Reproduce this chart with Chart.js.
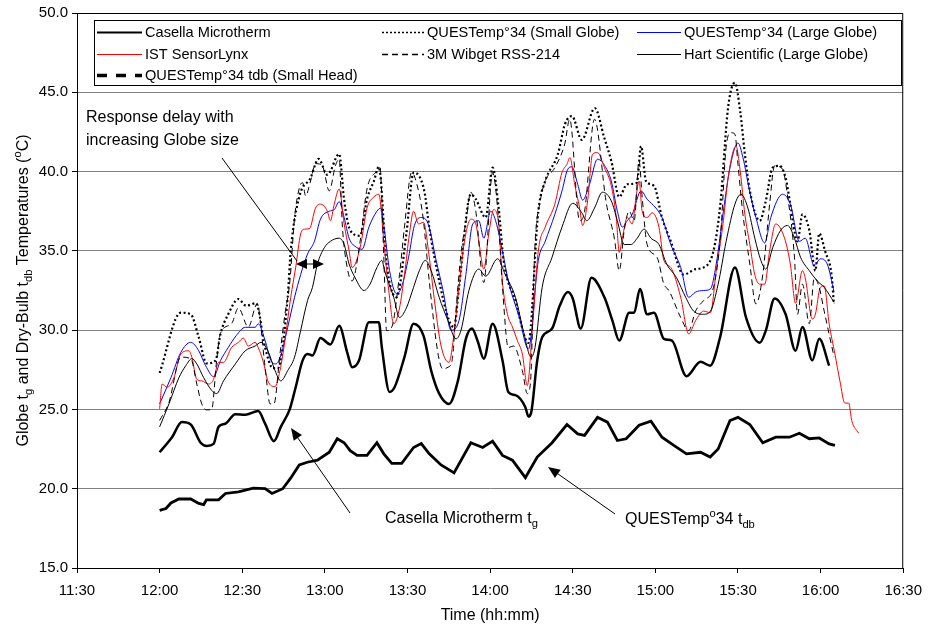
<!DOCTYPE html>
<html lang="en">
<head>
<meta charset="UTF-8" />
<title>Globe and dry-bulb temperatures</title>
<script src="https://cdn.jsdelivr.net/npm/chart.js@4.4.1/dist/chart.umd.min.js"></script>
<style>
  body { margin: 0; background: #fff; }
</style>
</head>
<body>
<canvas id="chart" width="931" height="626"></canvas>
<script>
// time axis labels
const timeTicks = ["11:30", "12:00", "12:30", "13:00", "13:30", "14:00", "14:30", "15:00", "15:30", "16:00", "16:30"];
const startTime = "12:00";

// series: minutes after 12:00 and temperatures (deg C)
const casellaT = [0,4.5,8.1,11.3,14.9,17.1,19.6,21.4,23.9,27.5,31.1,35.8,38.3,41.5,44,47.3,49.4,51.9,53.7,55.5,58.4,62,65.2,68.1,69.9,72.4,76,79.6,80.7,83.5,85.3,88.9,92.2,95.8,98.6,101.5,105.1,108.3,111.2,113.4,115.5,117.7,120.9,124.5,126.6,129.2,132.8,133.9,134.9,137.1,138.9,142.5,145.3,148.2,150,152.9,156.8,161.5,164.4,166.9,170.5,172.3,174.4,177,179.5,183.1,186,191.3,196.4,199.9,203.5,208.9,212.9,217.9,220.1,223.3,227.3,230.9,233.4,237,239.5,243.1];
const casellaV = [22.3,23.25,24.2,24.05,22.9,22.7,22.83,23.9,24.1,24.7,24.66,24.9,24.1,23.0,23.9,25.04,26.4,28.08,28.5,28.4,29.5,29.1,30.28,28.6,27.66,28.08,30.5,30.5,28.9,26.1,26.4,28.3,30.4,29.65,27.45,26.0,25.35,26.8,29.45,30.1,29.3,28.2,30.4,28.08,26.1,25.9,25.14,24.55,24.8,28.08,29.55,30.1,31.55,32.4,32.0,30.1,33.3,32.07,30.6,29.34,31.1,31.1,32.6,31.0,31.1,29.45,29.34,27.1,28.0,27.76,29.55,33.95,30.8,29.2,29.97,32.0,31.0,28.7,30.2,28.1,29.45,27.76];

const smallT = [0,7.7,11.3,14.2,17.1,20.3,22.1,24.9,28.6,31.4,35,38.3,41.1,42.9,46.5,47.6,50.8,54.8,57.7,60.9,65.2,67,69.2,72.8,75.3,77.8,79.6,82.4,86,89.6,92.2,96.1,97.9,101.5,105.1,106.9,108.7,113,114.8,118.4,120.9,123.1,124.9,129.2,133.9,137.5,140,144.6,147.2,149.7,153.3,158,161.5,164,166.9,169.7,173.3,174.8,176.6,179.5,182.4,185.6,190.3,194.6,197.5,201.1,203.6,206.4,208.9,210.8,212.5,214.3,217.9,220.1,222.6,225.1,227.3,229,231.6,233.4,235.9,238.1,239.5,241.6,244.1,244.8];
const smallV = [27.3,31.1,31.0,29.55,27.9,28.08,29.76,31.0,31.96,31.54,31.7,28.9,27.6,27.6,32.07,35.0,38.47,39.6,40.8,39.8,41.1,38.2,36.3,35.95,38.27,39.4,40.3,34.2,32.07,36.1,39.94,38.78,36.5,33.1,30.6,30.18,32.7,38.57,38.26,37.1,40.25,37.7,34.4,31.86,29.2,37.5,39.4,41.1,43.0,43.5,42.0,44.0,42.1,40.67,38.4,39.2,39.3,41.6,39.4,39.1,37.1,35.6,33.5,33.85,33.95,35.0,37.95,44.03,45.6,43.8,41.1,38.78,36.9,38.15,40.25,40.36,39.6,37.95,35.6,37.3,36.3,33.75,36.1,35.0,33.3,31.65];

const largeT = [0,4.1,7.7,11.3,14.2,16.7,19.6,22.1,24.9,27.8,31.1,34.7,35.8,38.3,40.4,42.2,44,46.5,49,51.2,53.7,56.2,58.4,61.6,63.4,65.2,67,68.8,71.7,73.5,76,78.9,80.3,81.4,83.5,86,87.8,90.4,92.5,95,97.5,100.4,102.9,105.8,108.7,111.2,113.7,115.9,117.7,120.2,122,124.9,126.6,130.6,133.9,137.5,140,143.5,146.1,148.2,149.7,151.8,153.6,156.1,159,161.5,164,166.2,168,169.8,171.6,174.8,177,180.2,182.4,185.6,189.2,192.1,194.6,197.5,200,202.1,204.7,207.1,210,211.8,214.3,216.5,219.7,221.9,226.2,229,232.3,234.4,237.7,239.9,242.4,244.9];
const largeV = [25.35,27.0,28.6,29.23,28.7,27.76,27.07,28.08,28.9,29.65,30.18,30.18,30.4,29.34,28.08,27.87,28.4,30.18,32.07,33.5,34.8,35.6,37.0,37.5,37.6,38.1,37.1,35.8,35.2,35.1,36.5,37.5,37.7,36.6,33.75,32.3,32.7,34.6,36.6,37.1,36.7,34.4,32.5,30.0,30.6,33.5,36.7,36.9,35.8,37.5,36.9,34.6,33.1,30.8,28.8,34.4,35.6,37.3,38.78,40.15,40.3,39.2,38.2,39.2,40.78,40.4,39.4,37.5,36.5,36.9,37.3,38.78,38.26,37.7,37.1,35.4,33.95,32.07,32.4,32.5,32.6,34.17,37.5,40.25,41.8,40.88,38.7,37.1,35.5,37.1,38.57,37.95,35.6,35.8,34.06,34.5,34.17,32.4];

const istT = [0,0.9,2.7,5.2,7.7,10.6,11.7,13.5,15.3,17.8,19.6,21.4,23.2,26.1,28.6,30.4,32.2,34.7,35.8,37.5,39.3,41.9,43.7,45.5,47.6,49.4,51.2,52.6,54.4,56.6,58.4,60.9,62,63.4,65.2,67,68.8,69.9,72.8,75.3,77.8,79.6,81.4,83.2,85,87.1,88.9,90.7,92.2,94,95.8,97.9,99.7,102.2,105.1,106.5,108.7,110.5,113,114.8,115.9,117.7,119.5,121.3,123.1,124.5,126.3,128.1,129.9,131.7,133.5,135.3,137.5,140,143.5,146.1,147.9,149,150.7,152.5,153.6,155.4,157.2,159,161.5,164,165.8,166.9,168,169.8,171.6,173,174.1,175.2,177,178.8,181.3,183.1,185.6,189.2,192.1,194.6,197.5,200,202.1,204.7,206.4,209.3,210.8,212.5,214.3,216.1,217.9,219.7,221.5,223.7,226.9,229,230.9,233.4,234.4,237,238.1,239.9,241.3,243.1,245.2,247,248.8,250.2,251.3,253.8];
const istV = [25.04,26.6,26.4,27.0,28.5,28.7,28.3,26.9,26.8,26.6,26.9,27.97,27.97,28.9,29.23,29.5,29.0,29.23,28.9,28.08,26.8,26.44,27.45,29.34,32.07,33.95,36.06,36.37,36.4,37.7,37.95,37.5,36.9,37.95,38.9,36.7,35.0,33.95,35.2,37.7,38.4,38.57,35.6,32.5,30.4,31.4,33.5,36.06,37.5,36.7,36.8,34.6,32.0,29.0,27.97,29.23,32.7,35.4,37.0,36.7,35.6,33.85,36.06,37.6,36.7,33.0,31.0,30.2,29.34,28.5,26.5,29.97,35.0,36.5,37.95,39.94,40.46,40.88,39.2,37.7,36.6,38.15,41.1,41.2,40.25,39.1,37.1,34.9,35.8,37.1,36.7,38.4,39.4,37.5,37.1,37.4,36.5,34.4,33.95,32.07,29.76,30.6,31.2,31.1,33.75,36.9,39.6,41.6,40.04,37.3,35.4,33.5,32.9,32.9,35.0,36.7,35.8,34.17,31.7,33.75,33.3,30.7,31.0,32.7,32.8,30.4,28.5,26.8,25.4,25.4,24.3,23.5];

const wibgetT = [0,3.4,7.7,11.3,13.5,15.3,17.1,18.9,20.7,22.1,26.1,28.6,32.2,35.4,38.3,40.1,41.5,43.7,45.5,47.3,49,50.8,51.9,53,54.8,56.6,59.1,61.6,63.8,65.2,66.3,68.1,69.9,72.8,75.3,78.9,80,81.4,82.4,84.3,87.1,88.9,91.5,94,95.8,97.9,101.2,102.9,104.7,106.2,107.6,109.4,111.2,113,114.8,117.7,120.9,122.7,124.5,126.6,128.5,131.7,133.5,134.6,136.3,138.2,140,143.5,147.1,148.9,152.5,154.3,157.9,162.2,165.1,166.9,168.7,170.5,172.3,174.1,175.2,177,180.6,183.1,184.9,189.2,192.1,194.6,197.5,201.1,203.6,205.8,207.5,208.9,210,211.8,214.3,216.5,219,221.5,223.3,226.2,227.9,230.5,231.6,233.4,235.9,237.7,239.5,241.3,244.9];
const wibgetV = [24.3,25.45,28.3,28.2,26.6,25.35,24.97,25.0,28.08,29.8,30.4,31.4,30.2,31.65,27.66,25.35,25.35,28.5,31.0,33.1,37.1,39.0,39.3,38.47,39.4,40.5,40.36,38.78,40.36,40.78,36.7,33.95,33.1,35.6,38.9,40.04,40.25,34.6,29.97,30.2,33.5,36.5,39.94,38.78,36.9,33.1,28.4,27.55,27.66,28.08,31.2,34.8,36.8,38.7,37.5,33.0,39.94,37.7,32.7,28.9,29.0,27.45,26.0,26.6,35.4,38.15,39.4,40.25,41.75,43.3,36.9,37.5,43.3,38.0,35.8,33.75,36.3,37.5,36.9,40.67,38.4,35.4,34.6,32.9,32.5,30.8,29.97,31.2,31.86,32.7,35.8,41.7,42.45,42.35,40.46,37.3,34.17,31.65,33.5,37.95,40.36,40.15,38.57,34.6,31.0,32.9,30.4,33.3,32.7,31.2,28.3];

const hartT = [0,3.4,7,9.5,11.7,13.5,16,18.9,20.7,23.2,27.5,31.1,34.7,36.8,39.3,41.9,44,46.5,49,51.2,53.7,55.5,57.3,59.8,62,65.2,67,68.8,71,74.2,76.4,78.9,80.7,81.7,85,87.1,89.6,92.2,94.3,96.5,98.6,101.5,104.7,107.6,109.4,112.3,115.9,118.4,122.7,125.5,129.2,132,134.9,136.3,138.9,142.5,146.1,150,153.3,155.1,157.9,160.8,164,166.2,168.7,171.2,173.4,175.9,178.4,181.3,184.1,187.7,191,193.9,197.5,200,202.8,205.7,208.9,211.1,213.6,216.1,218.3,220.1,222.6,225.5,228,230.5,232.7,235.9,238.8,241.3,244.9];
const hartV = [23.9,25.35,27.0,27.76,28.2,27.87,27.0,26.2,26.0,26.8,27.87,28.7,29.0,29.23,28.7,27.45,26.8,27.45,28.3,29.97,31.86,32.7,34.17,35.2,35.6,35.8,35.4,34.17,33.3,32.5,32.9,33.95,34.4,33.75,32.07,30.8,31.4,32.7,33.75,34.4,33.75,32.07,30.6,29.45,29.97,32.5,33.85,33.4,34.5,33.5,32.07,30.0,28.3,28.9,32.7,34.6,36.5,38.0,37.4,36.9,37.7,38.7,38.15,36.9,35.4,35.4,35.8,36.37,35.8,35.4,34.17,33.3,32.07,31.2,31.0,31.2,32.9,35.6,37.95,38.57,37.7,35.8,34.4,33.85,35.2,36.3,36.6,35.8,34.6,33.75,33.1,32.7,31.75];

const tdbT = [0,2.3,4.1,7,11.3,14.2,16,17,21.4,23.9,28.6,34,38.3,40.8,44.7,47.5,50.7,53.6,57.3,61.6,64.5,67,69.2,71.7,75.3,78.9,81.4,84.3,87.9,92.2,95,97.9,102.2,106.9,113,117.3,120.9,124.5,128.1,132.8,137.1,142.5,147.9,151.8,154.3,159,162.6,166.2,169.4,174.1,178.4,182.4,186.7,191.3,196.4,199.9,202.8,207.1,210,214.3,219,223.7,228.7,232.3,235.9,239.5,243.1,245.2];
const tdbV = [18.63,18.75,19.1,19.35,19.35,19.07,19.0,19.3,19.3,19.7,19.8,20.04,20.0,19.7,20.0,20.65,21.5,21.67,21.8,22.3,23.15,22.9,22.4,22.1,22.1,22.9,22.2,21.6,21.6,22.6,22.85,22.2,21.5,21.0,22.9,22.6,23.0,22.1,21.8,20.7,22.0,22.9,24.05,23.46,23.36,24.5,24.2,23.04,23.15,24.0,24.26,23.25,22.73,22.2,22.3,22.0,22.5,24.3,24.5,24.05,22.9,23.25,23.25,23.5,23.15,23.2,22.83,22.73];

const FONT = "'Liberation Sans', Arial, sans-serif";

function toMin(s) {
  const p = s.split(":");
  return +p[0] * 60 + +p[1];
}
function fmtTime(v) {
  const h = Math.floor(v / 60), m = Math.round(v % 60);
  return h + ":" + (m < 10 ? "0" : "") + m;
}
function pts(ts, vs) {
  const t0 = toMin(startTime);
  const n = Math.min(ts.length, vs.length);
  const out = [];
  for (let i = 0; i < n; i++) out.push({ x: t0 + ts[i], y: vs[i] });
  return out;
}

const datasets = [
  { label: "Casella Microtherm", data: pts(casellaT, casellaV), borderColor: "#000", borderWidth: 2.5, legendWidth: 2 },
  { label: "QUESTemp°34 (Small Globe)", data: pts(smallT, smallV), borderColor: "#000", borderWidth: 2.2, borderDash: [2, 2.5], legendWidth: 1.5, legendDash: [2, 2] },
  { label: "QUESTemp°34 (Large Globe)", data: pts(largeT, largeV), borderColor: "#0000ff", borderWidth: 1 },
  { label: "IST SensorLynx", data: pts(istT, istV), borderColor: "#ff0000", borderWidth: 1 },
  { label: "3M Wibget RSS-214", data: pts(wibgetT, wibgetV), borderColor: "#000", borderWidth: 1, borderDash: [6, 4], legendWidth: 1.5 },
  { label: "Hart Scientific (Large Globe)", data: pts(hartT, hartV), borderColor: "#000", borderWidth: 1 },
  { label: "QUESTemp°34 tdb (Small Head)", data: pts(tdbT, tdbV), borderColor: "#000", borderWidth: 2.8, cubicInterpolationMode: "default", tension: 0, legendWidth: 3.5, legendDash: [10, 9] }
];
datasets.forEach((d, i) => {
  d.order = -i;
  d.fill = false;
  if (!d.cubicInterpolationMode) d.cubicInterpolationMode = "monotone";
});

// rich text with sub/superscripts
function richText(ctx, parts, x, y, size, draw) {
  let cx = x;
  parts.forEach(([txt, kind]) => {
    const s = kind ? size * 0.7 : size;
    ctx.font = s + "px " + FONT;
    const dy = kind === "sub" ? size * 0.28 : kind === "sup" ? -size * 0.42 : 0;
    if (draw) ctx.fillText(txt, cx, y + dy);
    cx += ctx.measureText(txt).width;
  });
  return cx - x;
}

function arrowHead(ctx, x1, y1, x2, y2, len, half) {
  const a = Math.atan2(y2 - y1, x2 - x1);
  ctx.beginPath();
  ctx.moveTo(x2, y2);
  ctx.lineTo(x2 - len * Math.cos(a) + half * Math.sin(a), y2 - len * Math.sin(a) - half * Math.cos(a));
  ctx.lineTo(x2 - len * Math.cos(a) - half * Math.sin(a), y2 - len * Math.sin(a) + half * Math.cos(a));
  ctx.closePath();
  ctx.fill();
}

function line(ctx, x1, y1, x2, y2) {
  ctx.beginPath();
  ctx.moveTo(x1, y1);
  ctx.lineTo(x2, y2);
  ctx.stroke();
}

const decor = {
  id: "decor",
  beforeDatasetsDraw(chart) {
    const ctx = chart.ctx;
    ctx.save();
    ctx.fillStyle = "#fff";
    ctx.fillRect(94.5, 20.5, 807, 65);
    ctx.strokeStyle = "#000";
    ctx.lineWidth = 1;
    ctx.strokeRect(94.5, 20.5, 807, 65);
    const cols = [97, 382, 637];
    const lens = [45, 42, 44];
    const rows = [32, 54, 75];
    ctx.font = "14.6px " + FONT;
    ctx.textBaseline = "middle";
    chart.data.datasets.forEach((d, i) => {
      const c = i % 3, r = Math.floor(i / 3);
      const x = cols[c], y = rows[r];
      ctx.strokeStyle = d.borderColor;
      ctx.lineWidth = d.legendWidth || d.borderWidth;
      ctx.setLineDash(d.legendDash || d.borderDash || []);
      line(ctx, x, y + 0.5, x + lens[c], y + 0.5);
      ctx.setLineDash([]);
      ctx.fillStyle = "#000";
      ctx.fillText(d.label, x + lens[c] + 3, y + 1);
    });
    ctx.restore();
  },
  afterDraw(chart) {
    const ctx = chart.ctx;
    const a = chart.chartArea;
    ctx.save();
    ctx.strokeStyle = "#000";
    ctx.fillStyle = "#000";
    ctx.lineWidth = 1;
    // plot frame top and right
    ctx.beginPath();
    ctx.moveTo(a.left, a.top + 0.5);
    ctx.lineTo(a.right - 0.5, a.top + 0.5);
    ctx.lineTo(a.right - 0.5, a.bottom);
    ctx.stroke();

    // annotations
    ctx.textBaseline = "alphabetic";
    ctx.font = "16px " + FONT;
    ctx.fillText("Response delay with", 86, 122);
    ctx.fillText("increasing Globe size", 86, 145);
    line(ctx, 222, 158, 297, 261);
    line(ctx, 300, 264, 320, 264);
    arrowHead(ctx, 320, 264, 296, 264, 11, 5);
    arrowHead(ctx, 300, 264, 324, 264, 11, 5);

    line(ctx, 350, 513, 293, 431);
    arrowHead(ctx, 350, 513, 291, 428, 12, 5);
    richText(ctx, [["Casella Microtherm t"], ["g", "sub"]], 385, 523, 16, true);

    line(ctx, 615, 514, 551, 469);
    arrowHead(ctx, 615, 514, 548, 467, 12, 5);
    richText(ctx, [["QUESTemp"], ["o", "sup"], ["34 t"], ["db", "sub"]], 625, 524, 16, true);

    // axis titles
    ctx.textAlign = "left";
    const xt = "Time (hh:mm)";
    ctx.font = "16px " + FONT;
    const xw = ctx.measureText(xt).width;
    ctx.fillText(xt, (a.left + a.right) / 2 - xw / 2, 620);

    const yParts = [["Globe t"], ["g", "sub"], [" and Dry-Bulb t"], ["db", "sub"], [" Temperatures ("], ["o", "sup"], ["C)"]];
    const yw = richText(ctx, yParts, 0, 0, 16, false);
    ctx.translate(28, (a.top + a.bottom) / 2);
    ctx.rotate(-Math.PI / 2);
    richText(ctx, yParts, -yw / 2, 0, 16, true);
    ctx.restore();
  }
};

Chart.defaults.font.family = FONT;
Chart.defaults.font.size = 15;
Chart.defaults.color = "#000";

new Chart(document.getElementById("chart"), {
  type: "line",
  data: { datasets },
  options: {
    responsive: false,
    animation: false,
    devicePixelRatio: 1,
    layout: { padding: { top: 12, right: 19, left: 0, bottom: 0 } },
    elements: { point: { radius: 0 } },
    plugins: { legend: { display: false }, tooltip: { enabled: false } },
    scales: {
      x: {
        type: "linear",
        min: toMin(timeTicks[0]),
        max: toMin(timeTicks[timeTicks.length - 1]),
        afterBuildTicks: (axis) => { axis.ticks = timeTicks.map((s) => ({ value: toMin(s) })); },
        afterFit: (scale) => { scale.height = 58; },
        ticks: { callback: (v) => fmtTime(v), padding: 9, maxRotation: 0, autoSkip: false },
        grid: { drawOnChartArea: false, drawTicks: true, tickLength: 5, tickColor: "#000" },
        border: { color: "#000", width: 1 }
      },
      y: {
        min: 15,
        max: 50,
        afterFit: (scale) => { scale.width = 77; },
        ticks: { stepSize: 5, callback: (v) => v.toFixed(1), padding: 4 },
        grid: { color: "#808080", lineWidth: 1, tickLength: 5, tickColor: "#000" },
        border: { color: "#000", width: 1 }
      }
    }
  },
  plugins: [decor]
});
</script>
</body>
</html>
